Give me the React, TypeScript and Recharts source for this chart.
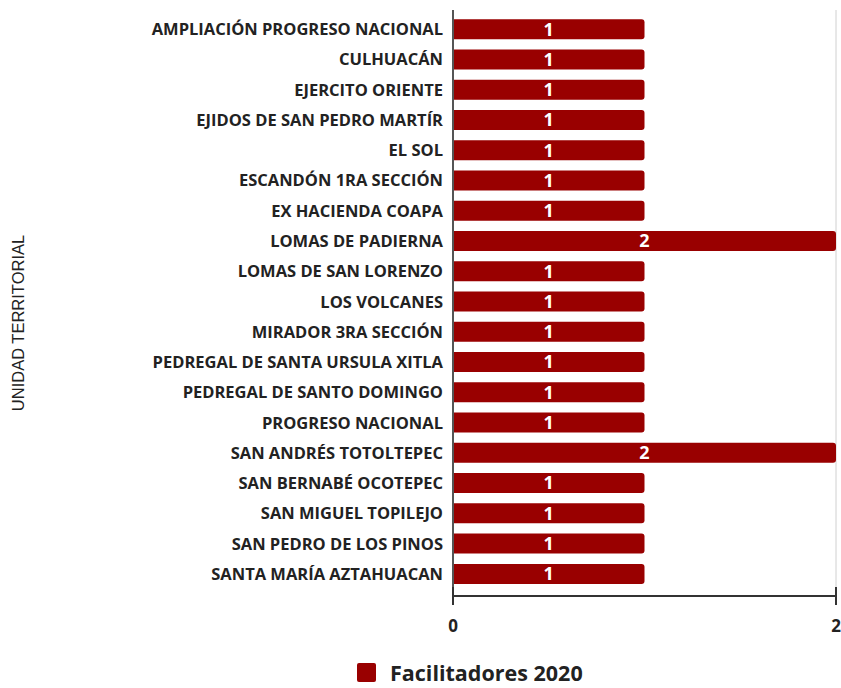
import React from 'react';
import { BarChart, Bar, XAxis, YAxis, CartesianGrid, Legend, LabelList, Label } from 'recharts';

const categories = [
  'AMPLIACIÓN PROGRESO NACIONAL',
  'CULHUACÁN',
  'EJERCITO ORIENTE',
  'EJIDOS DE SAN PEDRO MARTÍR',
  'EL SOL',
  'ESCANDÓN 1RA SECCIÓN',
  'EX HACIENDA COAPA',
  'LOMAS DE PADIERNA',
  'LOMAS DE SAN LORENZO',
  'LOS VOLCANES',
  'MIRADOR 3RA SECCIÓN',
  'PEDREGAL DE SANTA URSULA XITLA',
  'PEDREGAL DE SANTO DOMINGO',
  'PROGRESO NACIONAL',
  'SAN ANDRÉS TOTOLTEPEC',
  'SAN BERNABÉ OCOTEPEC',
  'SAN MIGUEL TOPILEJO',
  'SAN PEDRO DE LOS PINOS',
  'SANTA MARÍA AZTAHUACAN',
];
const facilitadores2020 = [1, 1, 1, 1, 1, 1, 1, 2, 1, 1, 1, 1, 1, 1, 2, 1, 1, 1, 1];
const xTicks = [0, 2];

const data = categories.map((name, i) => ({ name, value: facilitadores2020[i] }));

const FONT = '"Open Sans", "Noto Sans", sans-serif';
const RED = '#990000';

const XTick = ({ x, y, payload }: any) => (
  <g>
    <line x1={x} x2={x} y1={y - 9} y2={y + 9} stroke="#333" strokeWidth={2} />
    <text x={x} y={y + 36} textAnchor="middle" fontFamily={FONT} fontWeight={700} fontSize={17} fill="#222">
      {payload.value}
    </text>
  </g>
);

const YTick = ({ x, y, payload }: any) => (
  <text x={x} y={y} dy={6} textAnchor="end" fontFamily={FONT} fontWeight={700} fontSize={16.5} fill="#222">
    {payload.value}
  </text>
);

const AxisTitle = () => {
  const cx = 20;
  const cy = 323;
  return (
    <text x={cx} y={cy} transform={`rotate(-90 ${cx} ${cy})`} textAnchor="middle" dominantBaseline="middle"
      fontFamily='"Liberation Sans", Arial, sans-serif' fontSize={16.5} fill="#222">
      UNIDAD TERRITORIAL
    </text>
  );
};

const LegendContent = () => (
  <div style={{ display: 'flex', alignItems: 'center', fontFamily: FONT, fontWeight: 700, fontSize: 21.5, color: '#222', whiteSpace: 'nowrap' }}>
    <span style={{ width: 19, height: 19, background: RED, borderRadius: 2, display: 'inline-block', marginRight: 14 }} />
    <span>Facilitadores 2020</span>
  </div>
);

export default function App() {
  return (
    <div style={{ position: 'absolute', left: 0, top: 0, background: '#fff' }}>
      <BarChart
        width={841}
        height={688}
        data={data}
        layout="vertical"
        margin={{ top: 10, right: 5, left: 0, bottom: 23 }}
        barCategoryGap="17%"
      >
        <CartesianGrid horizontal={false} vertical stroke="#d0d0d0" />
        <XAxis
          type="number"
          domain={[0, 2]}
          ticks={xTicks}
          tickSize={0}
          tickMargin={0}
          tick={<XTick />}
          axisLine={{ stroke: '#333', strokeWidth: 2 }}
          height={40}
        />
        <YAxis
          type="category"
          dataKey="name"
          width={453}
          tick={<YTick />}
          tickLine={false}
          tickMargin={4}
          padding={{ top: 4, bottom: 7 }}
          axisLine={{ stroke: '#555', strokeWidth: 2 }}
          interval={0}
        >
          <Label content={<AxisTitle />} />
        </YAxis>
        <Legend
          verticalAlign="bottom"
          content={<LegendContent />}
          wrapperStyle={{ left: 357, top: 658, width: 'auto' }}
        />
        <Bar dataKey="value" fill={RED} radius={[0, 3, 3, 0]} isAnimationActive={false}>
          <LabelList dataKey="value" position="center" fill="#fff" fontFamily={FONT} fontWeight={700} fontSize={18} />
        </Bar>
      </BarChart>
    </div>
  );
}
